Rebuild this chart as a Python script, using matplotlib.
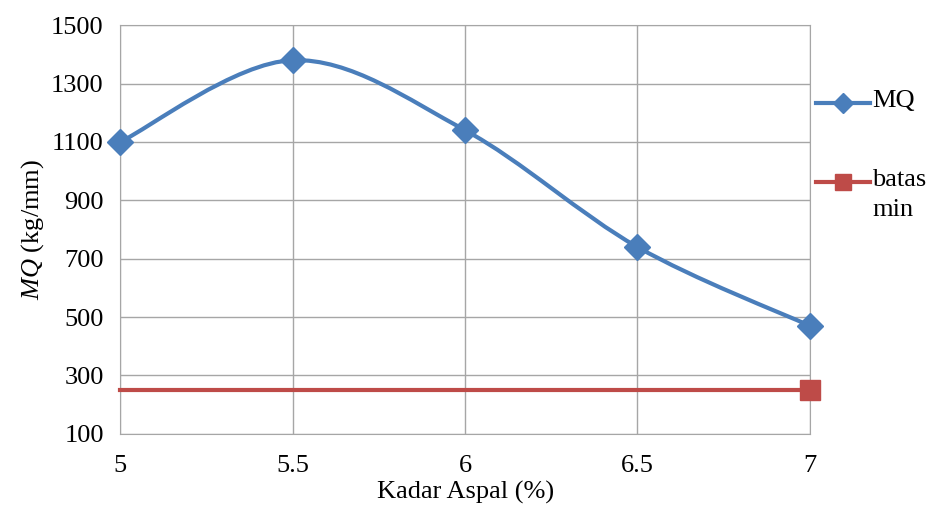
import numpy as np
import matplotlib.pyplot as plt
from matplotlib.path import Path
from matplotlib.patches import PathPatch
from matplotlib.lines import Line2D

plt.rcParams['font.family'] = ['Liberation Serif', 'DejaVu Serif']
plt.rcParams['mathtext.fontset'] = 'custom'
plt.rcParams['mathtext.rm'] = 'Liberation Serif'
plt.rcParams['mathtext.it'] = 'Liberation Serif:italic'

# data
kadar = [5, 5.5, 6, 6.5, 7]
mq = [1100, 1380, 1140, 740, 470]
batas_x = [5, 7]
batas_min = [250, 250]
series_names = ['MQ', 'batas\nmin']

blue = '#4a7ebb'
red = '#be4b48'
grid_c = '#a6a6a6'
fs = 19


def smooth_path(x, y):
    # Excel style smoothed line: cubic bezier through the points
    p = np.column_stack([x, y]).astype(float)
    n = len(p)
    verts = [p[0]]
    codes = [Path.MOVETO]
    for i in range(n - 1):
        p0 = p[i - 1] if i > 0 else p[i]
        p3 = p[i + 2] if i + 2 < n else p[i + 1]
        c1 = p[i] + (p[i + 1] - p0) / 6
        c2 = p[i + 1] - (p3 - p[i]) / 6
        verts += [c1, c2, p[i + 1]]
        codes += [Path.CURVE4] * 3
    return Path(verts, codes)


fig = plt.figure(figsize=(9.33, 5.14), dpi=100)
ax = fig.add_axes([0.129, 0.156, 0.739, 0.795])

patch = PathPatch(smooth_path(kadar, mq), facecolor='none', edgecolor=blue,
                  lw=3, zorder=3, capstyle='round', joinstyle='round')
ax.add_patch(patch)
ax.plot(kadar, mq, linestyle='none', marker='D', color=blue, markersize=13,
        clip_on=False, zorder=4)

ax.plot(batas_x, batas_min, color=red, lw=3, zorder=3, clip_on=False)
ax.plot(batas_x[-1:], batas_min[-1:], linestyle='none', marker='s', color=red,
        markersize=15, clip_on=False, zorder=4)

ax.set_xlim(5, 7)
ax.set_ylim(100, 1500)
ax.set_xticks([5, 5.5, 6, 6.5, 7])
ax.set_xticklabels(['5', '5.5', '6', '6.5', '7'])
ax.set_yticks(range(100, 1501, 200))
ax.grid(True, color=grid_c, lw=1)
ax.set_axisbelow(True)
for s in ax.spines.values():
    s.set_color(grid_c)
ax.tick_params(length=0, labelsize=fs)
ax.tick_params(axis='x', pad=15)
ax.tick_params(axis='y', pad=12)

ax.set_xlabel('Kadar Aspal (%)', fontsize=fs, labelpad=3)
ax.set_ylabel(r'$\mathit{MQ}$ (kg/mm)', fontsize=fs, labelpad=4)

# legend drawn by hand so the handle sits on the first text line
W, H = 933, 514
leg_y = [103, 182]
for (col, mk, ms), y, name in zip([(blue, 'D', 10), (red, 's', 12)], leg_y, series_names):
    yf = 1 - y / H
    fig.add_artist(Line2D([816 / W, 870 / W], [yf, yf], color=col, lw=3,
                          transform=fig.transFigure))
    fig.add_artist(Line2D([843 / W], [yf], color=col, marker=mk, markersize=ms,
                          linestyle='none', transform=fig.transFigure))
    fig.text(872 / W, yf + 13 / H, name, fontsize=fs, va='top', ha='left',
             linespacing=1.45)

fig.savefig('out.png', dpi=100)
